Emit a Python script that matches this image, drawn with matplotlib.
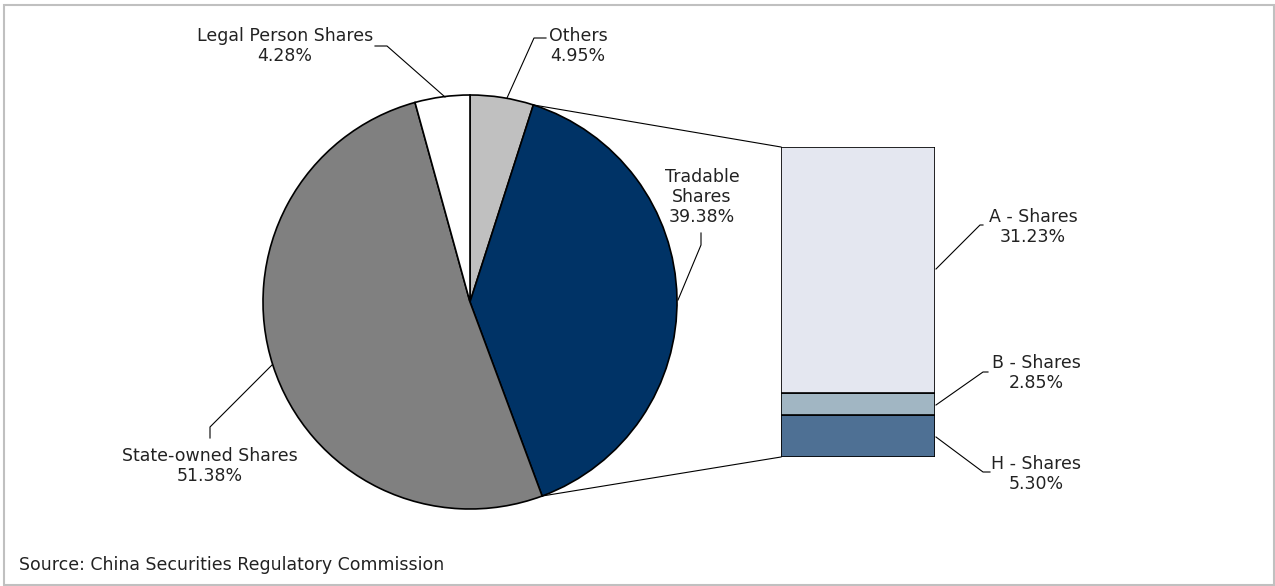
import numpy as np
import matplotlib
matplotlib.use("Agg")
import matplotlib.pyplot as plt
from matplotlib.patches import Rectangle

# pie data (clockwise from 12 o'clock)
pie_labels = ["Others", "Tradable\nShares", "State-owned Shares", "Legal Person Shares"]
pie_values = [4.95, 39.38, 51.38, 4.28]
pie_colors = ["#c0c0c0", "#003366", "#808080", "#ffffff"]

# breakdown of tradable shares (bottom to top)
bar_labels = ["H - Shares", "B - Shares", "A - Shares"]
bar_values = [5.30, 2.85, 31.23]
bar_colors = ["#4e7094", "#a1b6c3", "#e4e7f0"]

source = "Source: China Securities Regulatory Commission"

W, H = 1275, 586
fig = plt.figure(figsize=(W / 100, H / 100), dpi=100)
ax = fig.add_axes([0, 0, 1, 1])

def py(y):  # pixel row -> data y
    return H - y

cx, cy, r = 470, py(302), 207
ax.pie(pie_values, colors=pie_colors, startangle=90, counterclock=False,
       center=(cx, cy), radius=r, frame=True,
       wedgeprops=dict(edgecolor="black", linewidth=1.2))
ax.set_xlim(0, W)
ax.set_ylim(0, H)
ax.set_aspect("equal")
ax.axis("off")

# bar of pie
bx, btop, bbot, bw = 781, 147, 457, 154
bax = fig.add_axes([bx / W, py(bbot) / H, bw / W, (bbot - btop) / H])
bottom = 0
for v, c in zip(bar_values, bar_colors):
    bax.bar(0.5, v, width=1, bottom=bottom, color=c, edgecolor="black", linewidth=1.2)
    bottom += v
bax.set_xlim(0, 1)
bax.set_ylim(0, sum(bar_values))
bax.axis("off")

# connector lines from tradable slice edges to bar corners
tot = sum(pie_values)
a0 = np.deg2rad(90 - 360 * pie_values[0] / tot)
a1 = np.deg2rad(90 - 360 * (pie_values[0] + pie_values[1]) / tot)
ax.plot([cx + r * np.cos(a0), bx], [cy + r * np.sin(a0), py(btop)], color="black", lw=0.8)
ax.plot([cx + r * np.cos(a1), bx], [cy + r * np.sin(a1), py(bbot)], color="black", lw=0.8)

# labels with leader lines
txt = dict(fontsize=12.5, color="#222222", ha="center", va="center",
           family="DejaVu Sans", linespacing=1.15)
labels = [
    ("Legal Person Shares\n%.2f%%" % pie_values[3], (285, 46), [(375, 46), (387, 46), (445, 97)]),
    ("Others\n%.2f%%" % pie_values[0], (578, 46), [(546, 38), (534, 38), (507, 98)]),
    ("Tradable\nShares\n%.2f%%" % pie_values[1], (702, 197), [(701, 233), (701, 245), (678, 300)]),
    ("State-owned Shares\n%.2f%%" % pie_values[2], (210, 466), [(210, 438), (210, 427), (272, 365)]),
    ("A - Shares\n%.2f%%" % bar_values[2], (1033, 227), [(983, 225), (980, 225), (936, 269)]),
    ("B - Shares\n%.2f%%" % bar_values[1], (1036, 373), [(988, 372), (983, 372), (936, 405)]),
    ("H - Shares\n%.2f%%" % bar_values[0], (1036, 474), [(936, 437), (983, 472), (990, 472)]),
]
for s, (tx, ty), pts in labels:
    ax.text(tx, py(ty), s, **txt)
    ax.plot([p[0] for p in pts], [py(p[1]) for p in pts], color="black", lw=0.8)

ax.text(19, py(565), source, fontsize=12.5, color="#222222", ha="left", va="center",
        family="DejaVu Sans")

# outer frame
ax.add_patch(Rectangle((4, 1), 1270, 580, fill=False, edgecolor="#c0c0c0", lw=1.5))

fig.savefig("out.png", dpi=100)
